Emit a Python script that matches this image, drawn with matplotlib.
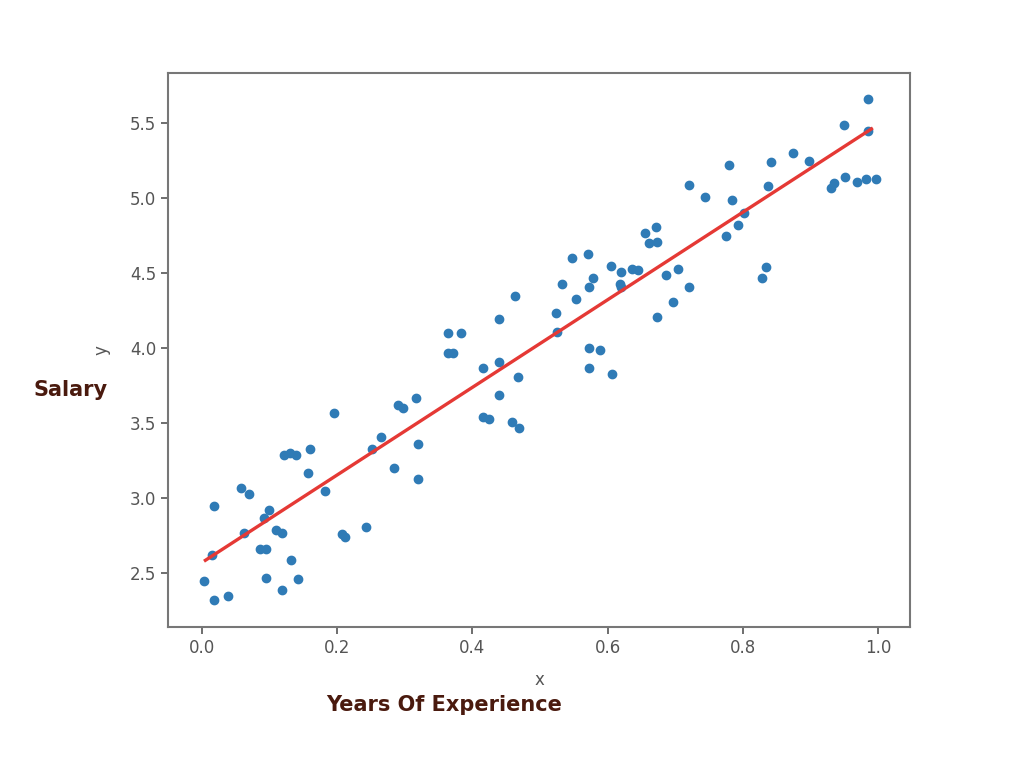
import numpy as np
import matplotlib.pyplot as plt

# points
x = [0.003, 0.015, 0.018, 0.018, 0.038, 0.058, 0.070, 0.062, 0.092, 0.099,
     0.086, 0.095, 0.095, 0.109, 0.118, 0.118, 0.132, 0.142, 0.121, 0.130,
     0.139, 0.157, 0.160, 0.182, 0.195, 0.207, 0.212, 0.251, 0.265, 0.284,
     0.290, 0.297, 0.243, 0.317, 0.320, 0.320, 0.364, 0.371, 0.364, 0.383,
     0.416, 0.416, 0.425, 0.439, 0.439, 0.439, 0.463, 0.467, 0.459, 0.469,
     0.524, 0.525, 0.533, 0.547, 0.553, 0.571, 0.572, 0.578, 0.572, 0.589,
     0.573, 0.607, 0.605, 0.620, 0.618, 0.620, 0.636, 0.645, 0.655, 0.661,
     0.672, 0.673, 0.673, 0.686, 0.697, 0.704, 0.720, 0.720, 0.744, 0.775,
     0.780, 0.784, 0.793, 0.802, 0.828, 0.834, 0.837, 0.842, 0.874, 0.898,
     0.930, 0.935, 0.950, 0.951, 0.969, 0.982, 0.985, 0.985, 0.996]
y = [2.45, 2.62, 2.95, 2.32, 2.35, 3.07, 3.03, 2.77, 2.87, 2.92,
     2.66, 2.66, 2.47, 2.79, 2.77, 2.39, 2.59, 2.46, 3.29, 3.30,
     3.29, 3.17, 3.33, 3.05, 3.57, 2.76, 2.74, 3.33, 3.41, 3.20,
     3.62, 3.60, 2.81, 3.67, 3.36, 3.13, 3.97, 3.97, 4.10, 4.10,
     3.87, 3.54, 3.53, 4.19, 3.91, 3.69, 4.35, 3.81, 3.51, 3.47,
     4.23, 4.11, 4.43, 4.60, 4.33, 4.63, 4.41, 4.47, 4.00, 3.99,
     3.87, 3.83, 4.55, 4.51, 4.43, 4.41, 4.53, 4.52, 4.77, 4.70,
     4.81, 4.71, 4.21, 4.49, 4.31, 4.53, 4.41, 5.09, 5.01, 4.75,
     5.22, 4.99, 4.82, 4.90, 4.47, 4.54, 5.08, 5.24, 5.30, 5.25,
     5.07, 5.10, 5.49, 5.14, 5.11, 5.13, 5.66, 5.45, 5.13]

# fitted line
intercept = 2.57
slope = 2.92
line_x = np.array([0.005, 0.99])

fig = plt.figure(figsize=(10.24, 7.65), dpi=100)
ax = fig.add_axes([168/1024, 1-627/765, 742/1024, 554/765])

ax.scatter(x, y, s=36, color="#2f7bb6", zorder=2)
ax.plot(line_x, intercept + slope * line_x, color="#e53935", lw=2.4, zorder=3)

ax.set_xlim(-0.0503, 1.047)
ax.set_ylim(5.5 - (627 - 123) / 150, 5.5 + (123 - 73) / 150)
ax.set_xticks([0.0, 0.2, 0.4, 0.6, 0.8, 1.0])
ax.set_yticks([2.5, 3.0, 3.5, 4.0, 4.5, 5.0, 5.5])
ax.tick_params(labelsize=12, colors="#555555", length=5, width=1.2)
for s in ax.spines.values():
    s.set_color("#777777")
    s.set_linewidth(1.5)

ax.set_xlabel("x", fontsize=12, color="#555555", labelpad=10)
ax.set_ylabel("y", fontsize=12, color="#555555", labelpad=14)

fig.text(71/1024, 1-390/765, "Salary", fontsize=15, fontweight="heavy",
         color="#4a1a0e", ha="center", va="center")
fig.text(444/1024, 1-705/765, "Years Of Experience", fontsize=15, fontweight="heavy",
         color="#4a1a0e", ha="center", va="center")

fig.savefig("out.png", dpi=100)
